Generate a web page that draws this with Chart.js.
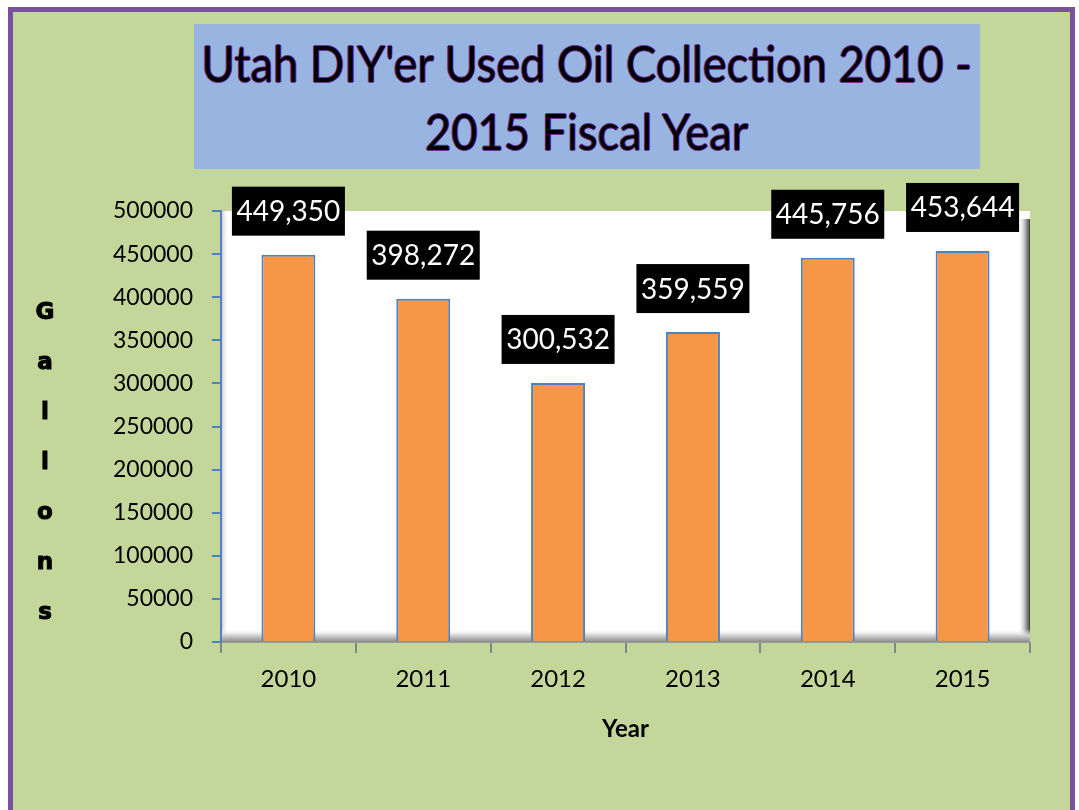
<!DOCTYPE html>
<html>
<head>
<meta charset="utf-8">
<script src="https://cdn.jsdelivr.net/npm/chart.js@4.4.0/dist/chart.umd.min.js"></script>
<style>
    html, body { margin: 0; padding: 0; background: #fff; width: 1079px; height: 810px; overflow: hidden; }
    #frame {
        position: absolute; left: 8px; top: 7px; width: 1067px; height: 830px;
        box-sizing: border-box; border: 5px solid #7A519E; background: #C4D79B;
    }
    #chart { position: absolute; left: 0; top: 0; }
    #titleBox { position: absolute; left: 194px; top: 24px; width: 786px; height: 145px; background: #98B4E0; }
    .tline {
        position: absolute; left: -300px; width: 1386px; text-align: center;
        font-family: Lato, sans-serif; font-weight: 400; font-size: 50px; line-height: 1.2; color: #000; white-space: nowrap;
    }
    .tline span {
        display: inline-block; transform-origin: center;
        text-shadow: 1px 0 0 #7030A0, -1px 0 0 #7030A0, 0 1px 0 #7030A0, 0 -1px 0 #7030A0;
    }
    #gallons {
        position: absolute; left: 28px; top: 286px; width: 34px; text-align: center;
        font-family: 'DejaVu Sans', sans-serif; font-weight: 900; font-size: 23px; line-height: 50px; color: #000;
        -webkit-text-stroke: 1px #000;
    }
</style>
</head>
<body>
<div id="frame"></div>
<canvas id="chart" width="1079" height="810"></canvas>
<div id="titleBox">
    <div class="tline" id="t1" style="top: 9px;"><span>Utah DIY'er Used Oil Collection 2010 -</span></div>
    <div class="tline" id="t2" style="top: 77px;"><span>2015 Fiscal Year</span></div>
</div>
<div id="gallons">G<br>a<br>l<br>l<br>o<br>n<br>s</div>
<script>
// Utah DIY'er used oil collection, gallons per fiscal year
const years = ['2010', '2011', '2012', '2013', '2014', '2015'];
const gallons = [449350, 398272, 300532, 359559, 445756, 453644];
const yMin = 0;
const yMax = 500000;
const yStep = 50000;

// squeeze the title lines to the reference width (Calibri is narrower than Lato)
const line1 = document.querySelector('#t1 span');
const squeeze = 770 / line1.offsetWidth;
document.querySelectorAll('.tline span').forEach(s => { s.style.transform = 'scaleX(' + squeeze + ')'; });

// white plot wall with the grey 3D floor and right edge
const plotWall = {
    id: 'plotWall',
    beforeDraw(chart) {
        const { ctx, chartArea: a } = chart;
        ctx.save();
        ctx.fillStyle = '#fff';
        ctx.fillRect(a.left + 1, a.top, a.right - a.left - 1, a.bottom - a.top);

        let g = ctx.createLinearGradient(a.left + 1, 0, a.left + 8, 0);
        g.addColorStop(0, '#d0d0d0');
        g.addColorStop(1, 'rgba(255,255,255,0)');
        ctx.fillStyle = g;
        ctx.fillRect(a.left + 1, a.top, 7, a.bottom - a.top);

        g = ctx.createLinearGradient(a.right - 12, 0, a.right, 0);
        g.addColorStop(0, 'rgba(255,255,255,0)');
        g.addColorStop(0.6, '#b0b0b0');
        g.addColorStop(0.9, '#606060');
        g.addColorStop(1, '#303030');
        ctx.fillStyle = g;
        ctx.fillRect(a.right - 12, a.top + 8, 12, a.bottom - a.top - 8);

        g = ctx.createLinearGradient(0, a.bottom - 13, 0, a.bottom);
        g.addColorStop(0, 'rgba(255,255,255,0)');
        g.addColorStop(0.5, '#d0d0d0');
        g.addColorStop(1, '#8c8c8c');
        ctx.fillStyle = g;
        ctx.fillRect(a.left + 1, a.bottom - 13, a.right - a.left - 1, 13);
        ctx.restore();
    }
};

// black value boxes above the bars
const valueLabels = {
    id: 'valueLabels',
    afterDatasetsDraw(chart) {
        const ctx = chart.ctx;
        const meta = chart.getDatasetMeta(0);
        ctx.save();
        ctx.font = '28px Lato';
        ctx.textAlign = 'center';
        ctx.textBaseline = 'middle';
        meta.data.forEach((bar, i) => {
            const w = 113, h = 49;
            const top = Math.max(bar.y - 19 - h, 177);
            ctx.fillStyle = '#000';
            ctx.fillRect(bar.x - w / 2, top, w, h);
            ctx.fillStyle = '#fff';
            ctx.fillText(gallons[i].toLocaleString('en-US'), bar.x, top + h / 2 + 1);
        });
        ctx.restore();
    }
};

new Chart(document.getElementById('chart').getContext('2d'), {
    type: 'bar',
    data: {
        labels: years,
        datasets: [{
            data: gallons,
            backgroundColor: '#F79646',
            borderColor: '#4F81BD',
            borderWidth: 2,
            barPercentage: 0.4,
            categoryPercentage: 1
        }]
    },
    options: {
        responsive: false,
        animation: false,
        layout: { padding: { top: 211, right: 49, left: 0, bottom: 0 } },
        plugins: {
            legend: { display: false },
            tooltip: { enabled: false }
        },
        scales: {
            x: {
                grid: { drawOnChartArea: false, color: '#868686', lineWidth: 2, tickLength: 11 },
                border: { color: '#9a9a9a', width: 1 },
                ticks: { color: '#000', font: { family: 'Lato', size: 24 }, padding: 12 },
                title: {
                    display: true, text: 'Year', color: '#000',
                    font: { family: 'Lato', size: 24, weight: 'bold' },
                    padding: { top: 66, bottom: 66 }
                },
                afterFit(scale) { scale.height = 168; }
            },
            y: {
                min: yMin,
                max: yMax,
                grid: { drawOnChartArea: false, color: '#4F81BD', lineWidth: 2, tickLength: 9 },
                border: { color: '#4F81BD', width: 2 },
                ticks: {
                    stepSize: yStep, color: '#000', padding: 19,
                    font: { family: 'Lato', size: 23 },
                    callback: v => String(v)
                },
                afterFit(scale) { scale.width = 221; }
            }
        }
    },
    plugins: [plotWall, valueLabels]
});
</script>
</body>
</html>
